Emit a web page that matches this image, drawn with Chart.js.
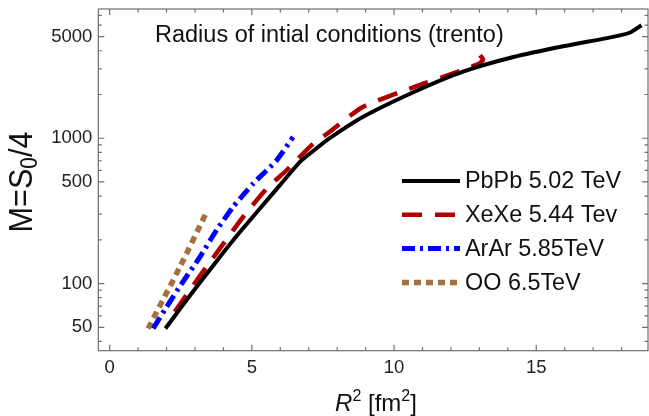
<!DOCTYPE html>
<html>
<head>
<meta charset="utf-8">
<script src="https://cdn.jsdelivr.net/npm/chart.js@4.4.0/dist/chart.umd.min.js"></script>
<style>
  html, body { margin: 0; padding: 0; background: #fff; }
  #wrap { width: 649px; height: 416px; }
</style>
</head>
<body>
<div id="wrap"><canvas id="chart" width="649" height="416"></canvas></div>
<script>
// values (x = R^2 in fm^2, y = M)
const pbX = [1.96, 2.5, 3.06, 3.8, 4.58, 5.3, 5.98, 6.7, 7.2, 7.7, 8.9, 10.7, 12.4, 14.2, 16.0, 17.7, 18.3, 18.7];
const pbY = [49, 68, 95, 146, 226, 331, 474, 690, 830, 990, 1400, 2080, 2860, 3620, 4310, 4980, 5340, 5990];

const xeX = [2.29, 2.8, 3.4, 4.0, 4.69, 5.52, 6.22, 7.16, 7.68, 8.9, 10.7, 12.4, 13.0, 13.13, 13.02];
const xeY = [64, 89, 130, 188, 287, 450, 602, 918, 1087, 1640, 2250, 2940, 3265, 3480, 3720];

const arX = [1.53, 2.0, 2.58, 3.17, 3.76, 4.34, 5.05, 5.87, 6.45];
const arY = [49, 69, 103, 152, 233, 337, 488, 705, 1020];

const ooX = [1.35, 2.47, 3.41];
const ooY = [49, 130, 311];

const seriesLabels = ['PbPb 5.02 TeV', 'XeXe 5.44 Tev', 'ArAr 5.85TeV', 'OO 6.5TeV'];
const xTickLabels = [0, 5, 10, 15];
const xMinorTicks = [1, 2, 3, 4, 6, 7, 8, 9, 11, 12, 13, 14, 16, 17, 18];
const yTickLabels = [50, 100, 500, 1000, 5000];
const yMinorTicks = [40, 60, 70, 80, 90, 200, 300, 400, 600, 700, 800, 900, 2000, 3000, 4000, 6000, 7000];

const FONT = "'Liberation Sans', Arial, sans-serif";

function pts(xs, ys) {
  return xs.map((x, i) => ({ x: x, y: ys[i] }));
}

// frame with inward ticks on all four sides, plus the texts
const framePlugin = {
  id: 'frame',
  afterDraw(chart) {
    const ctx = chart.ctx;
    const a = chart.chartArea;
    const xs = chart.scales.x;
    const ys = chart.scales.y;
    ctx.save();
    ctx.strokeStyle = '#6e6e6e';
    ctx.lineWidth = 1.2;
    ctx.strokeRect(a.left, a.top, a.right - a.left, a.bottom - a.top);

    function xTick(v, len) {
      const px = xs.getPixelForValue(v);
      ctx.beginPath();
      ctx.moveTo(px, a.bottom); ctx.lineTo(px, a.bottom - len);
      ctx.moveTo(px, a.top); ctx.lineTo(px, a.top + len);
      ctx.stroke();
    }
    function yTick(v, len) {
      const py = ys.getPixelForValue(v);
      ctx.beginPath();
      ctx.moveTo(a.left, py); ctx.lineTo(a.left + len, py);
      ctx.moveTo(a.right, py); ctx.lineTo(a.right - len, py);
      ctx.stroke();
    }
    xTickLabels.forEach(v => xTick(v, 6));
    xMinorTicks.forEach(v => xTick(v, 3.5));
    yTickLabels.forEach(v => yTick(v, 6));
    yMinorTicks.forEach(v => yTick(v, 3.5));

    // title inside the plot
    ctx.fillStyle = '#111';
    ctx.textBaseline = 'alphabetic';
    ctx.textAlign = 'left';
    ctx.font = '23.5px ' + FONT;
    ctx.fillText('Radius of intial conditions (trento)', 155, 42);

    // legend
    chart.data.datasets.forEach((ds, i) => {
      const y = 181 + i * 33.8;
      ctx.save();
      ctx.strokeStyle = ds.borderColor;
      ctx.lineWidth = ds.borderWidth;
      ctx.setLineDash(ds.borderDash || []);
      ctx.beginPath();
      ctx.moveTo(402, y); ctx.lineTo(460, y);
      ctx.stroke();
      ctx.restore();
      ctx.fillStyle = '#111';
      ctx.font = '23.4px ' + FONT;
      ctx.textBaseline = 'middle';
      ctx.fillText(ds.label, 465, y + 1);
    });

    // y axis title M=S0/4
    ctx.save();
    ctx.translate(23, 182);
    ctx.rotate(-Math.PI / 2);
    ctx.scale(0.9, 1);
    ctx.fillStyle = '#111';
    ctx.textBaseline = 'middle';
    const big = '34px ' + FONT, small = '23px ' + FONT;
    const parts = [['M=S', big, 0], ['0', small, 8], ['/4', big, 0]];
    let total = 0;
    parts.forEach(p => { ctx.font = p[1]; total += ctx.measureText(p[0]).width; });
    let cx = -total / 2;
    parts.forEach(p => {
      ctx.font = p[1];
      ctx.fillText(p[0], cx, p[2]);
      cx += ctx.measureText(p[0]).width;
    });
    ctx.restore();

    // x axis title R^2 [fm^2]
    ctx.save();
    ctx.fillStyle = '#111';
    ctx.textBaseline = 'alphabetic';
    const xParts = [['R', 'italic 24px ' + FONT, 0], ['2', '16px ' + FONT, -10], [' [fm', '24px ' + FONT, 0], ['2', '16px ' + FONT, -10], [']', '24px ' + FONT, 0]];
    let tw = 0;
    xParts.forEach(p => { ctx.font = p[1]; tw += ctx.measureText(p[0]).width; });
    let tx = 376 - tw / 2;
    xParts.forEach(p => {
      ctx.font = p[1];
      ctx.fillText(p[0], tx, 411 + p[2]);
      tx += ctx.measureText(p[0]).width;
    });
    ctx.restore();
    ctx.restore();
  }
};

const ctx = document.getElementById('chart').getContext('2d');
new Chart(ctx, {
  type: 'line',
  data: {
    datasets: [
      {
        label: seriesLabels[0],
        data: pts(pbX, pbY),
        borderColor: '#000000',
        borderWidth: 4,
        tension: 0.2
      },
      {
        label: seriesLabels[1],
        data: pts(xeX, xeY),
        borderColor: '#b00000',
        borderWidth: 4.5,
        borderDash: [20, 13],
        tension: 0.2
      },
      {
        label: seriesLabels[2],
        data: pts(arX, arY),
        borderColor: '#0000ff',
        borderWidth: 5,
        borderDash: [13, 5, 3, 5],
        tension: 0.2
      },
      {
        label: seriesLabels[3],
        data: pts(ooX, ooY),
        borderColor: '#a5703f',
        borderWidth: 5.5,
        borderDash: [7, 5],
        tension: 0.2
      }
    ]
  },
  options: {
    responsive: false,
    animation: false,
    devicePixelRatio: 1,
    elements: { point: { radius: 0 } },
    layout: { padding: { left: 0, right: 1, top: 9, bottom: 0 } },
    scales: {
      x: {
        type: 'linear',
        min: -0.4,
        max: 18.93,
        afterBuildTicks: axis => { axis.ticks = xTickLabels.map(v => ({ value: v })); },
        afterFit: axis => { axis.height = 65.3; axis.paddingLeft = 0; axis.paddingRight = 0; },
        grid: { display: false, drawTicks: false },
        border: { display: false },
        ticks: {
          padding: 6,
          color: '#222',
          font: { family: FONT, size: 18.5 },
          maxRotation: 0,
          callback: v => String(v)
        }
      },
      y: {
        type: 'logarithmic',
        min: 34.5,
        max: 7750,
        afterBuildTicks: axis => { axis.ticks = yTickLabels.map(v => ({ value: v })); },
        afterFit: axis => { axis.width = 98.3; axis.paddingTop = 0; axis.paddingBottom = 0; },
        grid: { display: false, drawTicks: false },
        border: { display: false },
        ticks: {
          padding: 6,
          color: '#222',
          font: { family: FONT, size: 18.5 },
          callback: v => String(v)
        }
      }
    },
    plugins: {
      legend: { display: false },
      tooltip: { enabled: false }
    }
  },
  plugins: [framePlugin]
});
</script>
</body>
</html>
